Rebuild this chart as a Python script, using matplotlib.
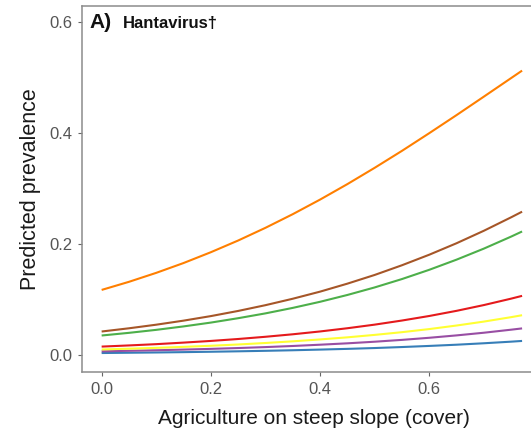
import matplotlib
matplotlib.use('Agg')
import matplotlib.pyplot as plt

plt.rcParams['font.family'] = ['Liberation Sans', 'DejaVu Sans']

# predicted prevalence along agriculture cover, one curve per group
cover = [0.0, 0.05, 0.1, 0.15, 0.2, 0.25, 0.3, 0.35, 0.4, 0.45,
         0.5, 0.55, 0.6, 0.65, 0.7, 0.75, 0.77]
orange = [0.1170, 0.1316, 0.1478, 0.1655, 0.1850, 0.2061, 0.2290, 0.2536, 0.2799,
          0.3078, 0.3372, 0.3678, 0.3997, 0.4323, 0.4656, 0.4991, 0.5125]
brown = [0.0420, 0.0478, 0.0543, 0.0616, 0.0698, 0.0791, 0.0895, 0.1011, 0.1139,
         0.1283, 0.1440, 0.1615, 0.1805, 0.2012, 0.2237, 0.2480, 0.2581]
green = [0.0348, 0.0396, 0.0450, 0.0512, 0.0581, 0.0660, 0.0747, 0.0846, 0.0956,
         0.1079, 0.1215, 0.1366, 0.1533, 0.1716, 0.1915, 0.2132, 0.2224]
red = [0.0148, 0.0169, 0.0192, 0.0220, 0.0250, 0.0285, 0.0325, 0.0370, 0.0421,
       0.0479, 0.0544, 0.0618, 0.0700, 0.0793, 0.0897, 0.1013, 0.1063]
yellow = [0.0096, 0.0110, 0.0125, 0.0143, 0.0163, 0.0186, 0.0213, 0.0243, 0.0277,
          0.0315, 0.0359, 0.0408, 0.0464, 0.0528, 0.0599, 0.0679, 0.0714]
purple = [0.0063, 0.0072, 0.0082, 0.0094, 0.0107, 0.0122, 0.0139, 0.0159, 0.0182,
          0.0207, 0.0236, 0.0269, 0.0307, 0.0350, 0.0398, 0.0453, 0.0476]
blue = [0.0032, 0.0037, 0.0042, 0.0048, 0.0055, 0.0063, 0.0072, 0.0082, 0.0094,
        0.0107, 0.0122, 0.0140, 0.0160, 0.0182, 0.0208, 0.0237, 0.0250]

series = [
    (red, '#E41A1C'),
    (blue, '#377EB8'),
    (green, '#4DAF4A'),
    (purple, '#984EA3'),
    (orange, '#FF7F00'),
    (yellow, '#FFFF33'),
    (brown, '#A65628'),
]

x_ticks = [0.0, 0.2, 0.4, 0.6]
y_ticks = [0.0, 0.2, 0.4, 0.6]

fig = plt.figure(figsize=(5.31, 4.33), dpi=100)
ax = fig.add_axes([0.1544, 0.1409, 0.872, 0.8452])

for vals, col in series:
    ax.plot(cover, vals, color=col, lw=1.5, solid_capstyle='butt',
            solid_joinstyle='round')

ax.set_xlim(-0.036, 0.812)
ax.set_ylim(-0.031, 0.629)
ax.set_xticks(x_ticks)
ax.set_yticks(y_ticks)
ax.set_xticklabels([f'{t:.1f}' for t in x_ticks])
ax.set_yticklabels([f'{t:.1f}' for t in y_ticks])

for side in ['left', 'bottom', 'top']:
    ax.spines[side].set_color('#8c8c8c')
    ax.spines[side].set_linewidth(1.1)
ax.spines['right'].set_visible(False)

ax.tick_params(axis='both', length=3, width=0.8, color='#666666',
               labelcolor='#555555', labelsize=12, pad=4)

ax.set_xlabel('Agriculture on steep slope (cover)', fontsize=15,
              color='#1a1a1a', labelpad=9)
ax.set_ylabel('Predicted prevalence', fontsize=15.5, color='#1a1a1a',
              labelpad=6)

fig.text(89 / 531, 1 - 28 / 433, 'A)', fontsize=15, fontweight='bold',
         va='baseline', ha='left', color='#111111')
fig.text(123 / 531, 1 - 28 / 433, 'Hantavirus\u2020', fontsize=12,
         fontweight='bold', va='baseline', ha='left', color='#111111')

fig.savefig('out.png', dpi=100)
